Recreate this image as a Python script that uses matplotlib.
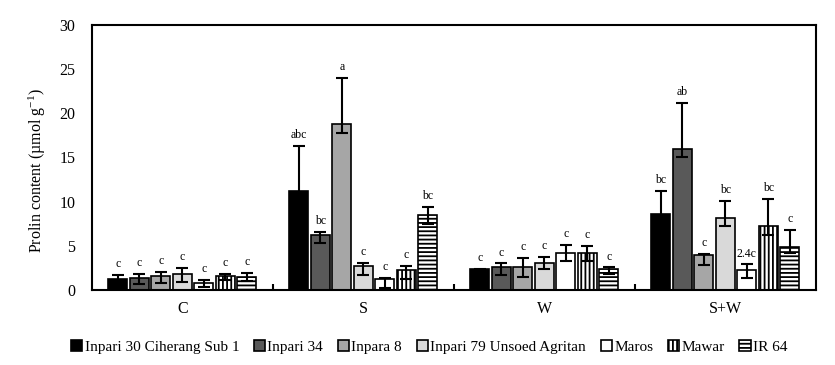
import numpy as np
import matplotlib
matplotlib.use('Agg')
import matplotlib.pyplot as plt

treatments = ['C', 'S', 'W', 'S+W']
varieties = ['Inpari 30 Ciherang Sub 1', 'Inpari 34', 'Inpara 8',
             'Inpari 79 Unsoed Agritan', 'Maros', 'Mawar', 'IR 64']

# mean prolin content per variety, over C, S, W, S+W
inpari30 = [1.3, 11.2, 2.35, 8.55]
inpari34 = [1.4, 6.2, 2.65, 16.0]
inpara8 = [1.6, 18.8, 2.55, 4.0]
inpari79 = [1.8, 2.7, 3.1, 8.2]
maros = [0.8, 1.2, 4.2, 2.3]
mawar = [1.6, 2.25, 4.2, 7.2]
ir64 = [1.5, 8.45, 2.4, 4.9]

# error bars (upper / lower)
err_up = [[0.4, 5.1, 0.05, 2.65],
          [0.45, 0.4, 0.35, 5.2],
          [0.4, 5.2, 1.05, 0.05],
          [0.65, 0.4, 0.6, 1.9],
          [0.3, 0.2, 0.9, 0.6],
          [0.2, 0.45, 0.8, 3.1],
          [0.4, 0.95, 0.15, 1.9]]
err_low = [[0.4, 1.0, 0.05, 1.0],
           [0.7, 0.9, 0.95, 1.0],
           [0.8, 1.0, 1.05, 1.2],
           [0.95, 1.0, 0.7, 1.0],
           [0.45, 1.0, 0.9, 0.9],
           [0.5, 1.0, 0.9, 1.0],
           [0.5, 1.0, 0.6, 0.7]]

# significance letters, per treatment
letters_c = ['c', 'c', 'c', 'c', 'c', 'c', 'c']
letters_s = ['abc', 'bc', 'a', 'c', 'c', 'c', 'bc']
letters_w = ['c', 'c', 'c', 'c', 'c', 'c', 'c']
letters_sw = ['bc', 'ab', 'c', 'bc', '2.4c', 'bc', 'c']

means = [inpari30, inpari34, inpara8, inpari79, maros, mawar, ir64]
letters = [letters_c, letters_s, letters_w, letters_sw]
colors = ['#000000', '#595959', '#a6a6a6', '#d9d9d9', '#ffffff', '#ffffff', '#ffffff']
hatches = [None, None, None, None, None, '||||', '----']

plt.rcParams['font.family'] = ['Liberation Serif', 'DejaVu Serif']
plt.rcParams['mathtext.fontset'] = 'custom'
plt.rcParams['mathtext.rm'] = 'Liberation Serif'
plt.rcParams['mathtext.it'] = 'Liberation Serif:italic'
plt.rcParams['hatch.linewidth'] = 1.3

fig = plt.figure(figsize=(8.35, 3.65), dpi=100)
ax = fig.add_axes([0.110, 0.2055, 0.867, 0.726])

x = np.arange(len(treatments))
pitch = 0.119
width = 0.105
for j, (name, vals) in enumerate(zip(varieties, means)):
    xs = x + (j - 3) * pitch
    ax.bar(xs, vals, width, color=colors[j], edgecolor='black', linewidth=1.2,
           hatch=hatches[j], label=name, zorder=2)
    ax.errorbar(xs, vals, yerr=[err_low[j], err_up[j]], fmt='none',
                ecolor='black', elinewidth=1.5, capsize=4, capthick=1.5, zorder=3)
    for i in range(len(treatments)):
        ax.text(xs[i], vals[i] + err_up[j][i] + 0.55, letters[i][j],
                ha='center', va='bottom', fontsize=8.5)

ax.set_xlim(-0.5, 3.5)
ax.set_ylim(0, 30)
ax.set_yticks(range(0, 31, 5))
ax.tick_params(axis='y', length=0, labelsize=11.5, pad=12)
ax.set_xticks(x)
ax.set_xticklabels(treatments)
ax.tick_params(axis='x', which='major', length=0, labelsize=11.5, pad=8)
ax.set_xticks([0.5, 1.5, 2.5], minor=True)
ax.tick_params(axis='x', which='minor', direction='in', length=4, width=1.5)
for s in ax.spines.values():
    s.set_linewidth(1.5)
ax.set_ylabel('Prolin content (µmol g$^{-1}$)', fontsize=11.5)
ax.yaxis.set_label_coords(-0.06, 0.45)

fig.legend(loc='center', bbox_to_anchor=(0.514, 0.05), ncol=7, frameon=False,
           fontsize=11, handlelength=0.75, handleheight=0.75,
           handletextpad=0.15, columnspacing=0.95)

fig.savefig('out.png', dpi=100)
